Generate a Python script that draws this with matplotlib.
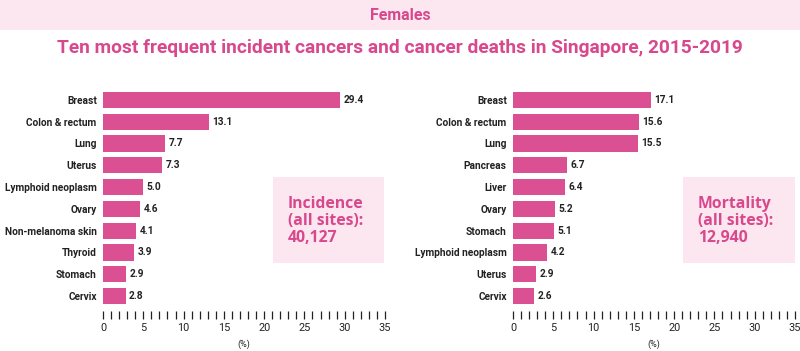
import matplotlib
matplotlib.use("Agg")
import matplotlib.pyplot as plt
from matplotlib.patches import Rectangle
from matplotlib.ticker import MultipleLocator

PINK = "#DB4F93"
TITLE_PINK = "#D8488C"
BAND = "#FCE6F0"
DARK = "#222222"

inc_sites = ["Breast", "Colon & rectum", "Lung", "Uterus", "Lymphoid neoplasm",
             "Ovary", "Non-melanoma skin", "Thyroid", "Stomach", "Cervix"]
inc_pct = [29.4, 13.1, 7.7, 7.3, 5.0, 4.6, 4.1, 3.9, 2.9, 2.8]

mort_sites = ["Breast", "Colon & rectum", "Lung", "Pancreas", "Liver",
              "Ovary", "Stomach", "Lymphoid neoplasm", "Uterus", "Cervix"]
mort_pct = [17.1, 15.6, 15.5, 6.7, 6.4, 5.2, 5.1, 4.2, 2.9, 2.6]

plt.rcParams["font.family"] = ["Roboto", "DejaVu Sans"]

W, H = 800, 351
fig = plt.figure(figsize=(W / 100, H / 100), dpi=100)


def px(x0, y0, w, h):
    # pixel box (top-left origin) -> figure fraction
    return [x0 / W, 1 - (y0 + h) / H, w / W, h / H]


# header band + title
fig.patches.append(Rectangle((0, 1 - 30 / H), 1, 30 / H, transform=fig.transFigure,
                             facecolor=BAND, edgecolor="none", zorder=0))
fig.text(0.5, 1 - 15 / H, "Females", ha="center", va="center",
         fontsize=11.5, fontweight="bold", color=TITLE_PINK)
fig.text(0.5, 1 - 48 / H, "Ten most frequent incident cancers and cancer deaths in Singapore, 2015-2019",
         ha="center", va="center", fontsize=13.8, fontweight="bold", color=TITLE_PINK)


def panel(rect, sites, vals, box_rect, box_text):
    ax = fig.add_axes(rect)
    y = list(range(len(sites)))
    ax.barh(y, vals, height=0.74, color=PINK)
    for yi, v in zip(y, vals):
        ax.annotate(f"{v:.1f}", (v, yi), textcoords="offset points", xytext=(2.5, 0),
                    va="center", ha="left", fontsize=7.3, fontweight="bold", color=DARK)
    ax.set_ylim(9.5, -0.5)
    ax.set_xlim(0, 35)
    ax.set_yticks(y)
    ax.set_yticklabels(sites, fontsize=7.3, fontweight="bold", color=DARK)
    ax.tick_params(axis="y", length=0, pad=4.5)
    ax.xaxis.set_major_locator(MultipleLocator(5))
    ax.xaxis.set_minor_locator(MultipleLocator(1))
    ax.tick_params(axis="x", which="both", length=5.8, width=0.9, color=DARK,
                   direction="out", pad=3)
    ax.tick_params(axis="x", labelsize=7.8, labelcolor=DARK)
    for lab in ax.get_xticklabels():
        lab.set_fontweight("bold")
    ax.spines["bottom"].set_position(("outward", 3))
    for s in ax.spines.values():
        s.set_visible(False)
    ax.set_xlabel("(%)", fontsize=6.5, color=DARK, labelpad=4)
    ax.set_facecolor("none")

    fig.patches.append(Rectangle((box_rect[0], box_rect[1]), box_rect[2], box_rect[3],
                                 transform=fig.transFigure, facecolor=BAND,
                                 edgecolor="none", zorder=0))
    fig.text(box_rect[0] + 15 / W, box_rect[1] + box_rect[3] / 2 - 1 / H, box_text,
             ha="left", va="center", fontsize=11.3, fontweight="bold",
             family=["Open Sans", "DejaVu Sans"], color=TITLE_PINK, linespacing=1.12)
    return ax


panel(px(103, 89, 282, 218), inc_sites, inc_pct,
      px(273, 177, 111, 86), "Incidence\n(all sites):\n40,127")
panel(px(513, 89, 282, 218), mort_sites, mort_pct,
      px(683, 177, 112, 86), "Mortality\n(all sites):\n12,940")

fig.savefig("out.png", dpi=100)
